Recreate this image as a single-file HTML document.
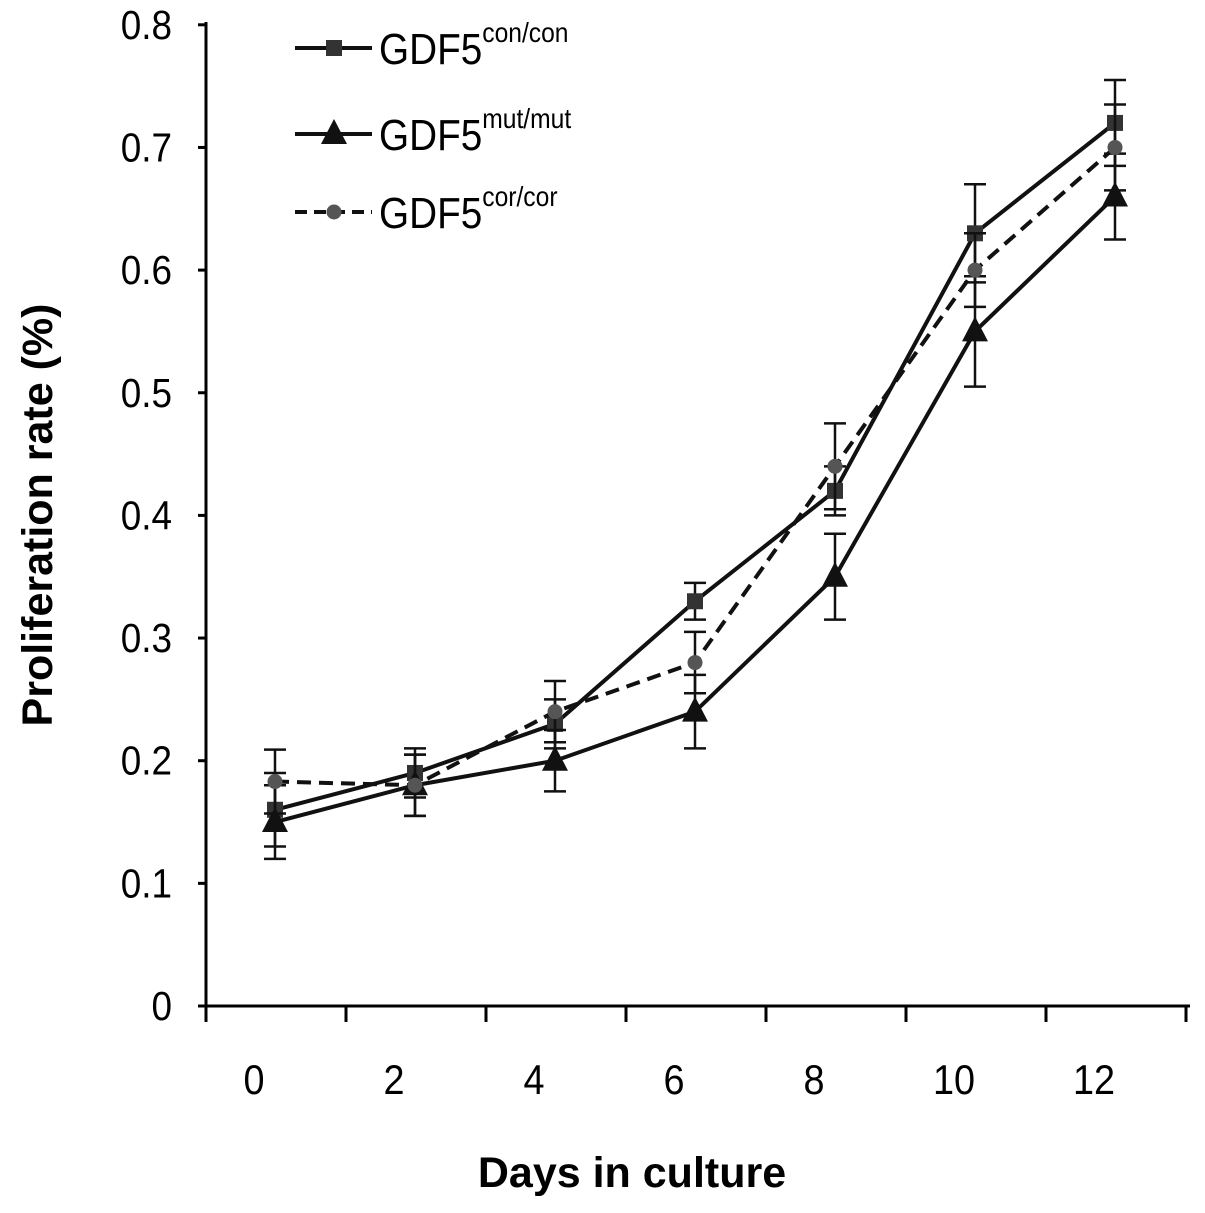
<!DOCTYPE html>
<html><head><meta charset="utf-8"><style>
html,body{margin:0;padding:0;background:#fff;}
svg{display:block;font-family:"Liberation Sans",sans-serif;}
</style></head><body>
<svg id="chart" width="1205" height="1213" viewBox="0 0 1205 1213">
<g id="axes"></g><g id="series"></g><g id="legend"></g>
</svg>
<script>
const days = [0,2,4,6,8,10,12];
const yTicks = [0,0.1,0.2,0.3,0.4,0.5,0.6,0.7,0.8];
const yTickLabels = ["0","0.1","0.2","0.3","0.4","0.5","0.6","0.7","0.8"];
const conVals = [0.16,0.19,0.23,0.33,0.42,0.63,0.72];
const conErr = [0.03,0.02,0.02,0.015,0.02,0.04,0.035];
const mutVals = [0.15,0.18,0.20,0.24,0.35,0.55,0.66];
const mutErr = [0.03,0.025,0.025,0.03,0.035,0.045,0.035];
const corVals = [0.183,0.18,0.24,0.28,0.44,0.60,0.70];
const corErr = [0.026,0.025,0.025,0.025,0.035,0.03,0.035];

const NS="http://www.w3.org/2000/svg";
function xPos(i){return 275+140*i;}
function yPos(v){return 1006-v*1226.5;}
function mk(tag,attrs,parent,text){const e=document.createElementNS(NS,tag);for(const k in attrs)e.setAttribute(k,attrs[k]);if(text!==undefined)e.textContent=text;parent.appendChild(e);return e;}
const axes=document.getElementById('axes'),series=document.getElementById('series'),legend=document.getElementById('legend');

const ya=mk('line',{x1:206,y1:22,x2:206,y2:1008,stroke:'#000','stroke-width':3},axes);


const xa=mk('line',{x1:205,y1:1006,x2:1190,y2:1006,stroke:'#000','stroke-width':3},axes);


yTicks.forEach((t,i)=>{
  mk('line',{x1:198,y1:yPos(t),x2:206,y2:yPos(t),stroke:'#000','stroke-width':3},axes);
  const l=mk('text',{x:0,y:0,transform:`translate(172,${yPos(t)+14}) scale(0.9,1)`,'text-anchor':'end','font-size':41},axes,yTickLabels[i]);
  
  
});
for(let i=0;i<=days.length;i++){
  const x=xPos(i)-69;
  mk('line',{x1:x,y1:1006,x2:x,y2:1022,stroke:'#000','stroke-width':3},axes);
}
days.forEach((d,i)=>{
  const l=mk('text',{x:0,y:0,transform:`translate(${xPos(i)-21},1094) scale(0.9,1)`,'text-anchor':'middle','font-size':42},axes,String(d));
  
  
});
const yt=mk('text',{x:0,y:0,transform:'translate(52,515) rotate(-90)','text-anchor':'middle','font-size':43,'font-weight':'bold'},axes,'Proliferation rate (%)');


const xt=mk('text',{x:632,y:1187,'text-anchor':'middle','font-size':43,'font-weight':'bold'},axes,'Days in culture');



function marker(type,x,y,parent){
  if(type==='sq') return mk('rect',{x:x-8,y:y-8,width:16,height:16,fill:'#333'},parent);
  if(type==='tri') return mk('polygon',{points:`${x},${y-15} ${x-13},${y+10} ${x+13},${y+10}`,fill:'#111'},parent);
  return mk('circle',{cx:x,cy:y,r:7.5,fill:'#555'},parent);
}
function drawSeries(name,vals,errs,type,dash){
  const g=mk('g',{},series);
  
  
  vals.forEach((v,i)=>{
    const x=xPos(i),t=yPos(v+errs[i]),b=yPos(v-errs[i]);
    mk('line',{x1:x,y1:t,x2:x,y2:b,stroke:'#111','stroke-width':2.5},g);
    mk('line',{x1:x-11,y1:t,x2:x+11,y2:t,stroke:'#111','stroke-width':2.5},g);
    mk('line',{x1:x-11,y1:b,x2:x+11,y2:b,stroke:'#111','stroke-width':2.5},g);
  });
  const p=mk('polyline',{points:vals.map((v,i)=>xPos(i)+','+yPos(v)).join(' '),fill:'none',stroke:'#111','stroke-width':4,'stroke-dasharray':dash||'none'},g);
  
  
  vals.forEach((v,i)=>{
    const m=marker(type,xPos(i),yPos(v),g);
    
    
  });
}
drawSeries('series-con',conVals,conErr,'sq');
drawSeries('series-mut',mutVals,mutErr,'tri');
drawSeries('series-cor',corVals,corErr,'circ','14,8');

const leg=[['con/con','sq',48,null],['mut/mut','tri',134,null],['cor/cor','circ',212,'12,7']];
leg.forEach(([sup,type,y,dash])=>{
  const g=mk('g',{},legend);
  
  
  mk('line',{x1:295,y1:y,x2:372,y2:y,stroke:'#111','stroke-width':4,'stroke-dasharray':dash||'none'},g);
  marker(type,334,y,g);
  const t=mk('text',{x:0,y:0,transform:`translate(379,${y+16}) scale(0.88,1)`,'font-size':44},g,'GDF5');
  mk('tspan',{'font-size':28,dy:-22},t,sup);
});
</script>
</body></html>
